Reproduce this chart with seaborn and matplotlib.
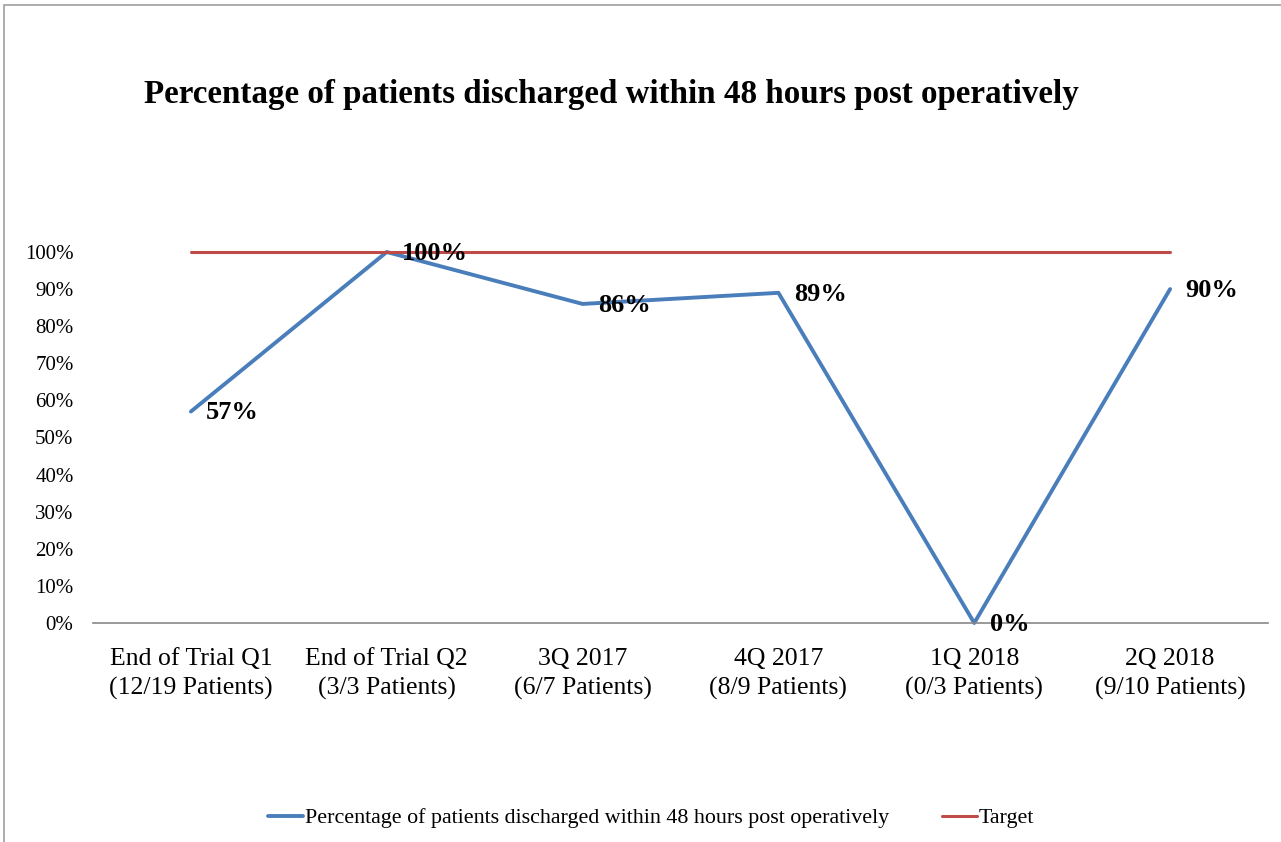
import numpy as np
import pandas as pd
import matplotlib
matplotlib.use("Agg")
import matplotlib.pyplot as plt
import seaborn as sns
from matplotlib.patches import Rectangle

# --- data ---
categories = [
    "End of Trial Q1\n(12/19 Patients)",
    "End of Trial Q2\n(3/3 Patients)",
    "3Q 2017\n(6/7 Patients)",
    "4Q 2017\n(8/9 Patients)",
    "1Q 2018\n(0/3 Patients)",
    "2Q 2018\n(9/10 Patients)",
]
discharged_pct = [57, 100, 86, 89, 0, 90]
target_pct = [100, 100, 100, 100, 100, 100]

series_name = "Percentage of patients discharged within 48 hours post operatively"
target_name = "Target"
title = "Percentage of patients discharged within 48 hours post operatively"

# --- style ---
sns.set_style("white")
plt.rcParams["font.family"] = ["Liberation Serif", "DejaVu Serif"]
plt.rcParams["text.color"] = "black"
plt.rcParams["xtick.color"] = "black"
plt.rcParams["ytick.color"] = "black"

BLUE = "#4A7EBB"
RED = "#BE4B48"

df = pd.DataFrame({
    "pos": np.arange(len(categories)),
    "value": discharged_pct,
    "target": target_pct,
})

fig = plt.figure(figsize=(12.81, 8.42), dpi=100)
W, H = 1281, 842
ax = fig.add_axes([93 / W, (H - 623) / H, (1268 - 93) / W, (623 - 252) / H])

sns.lineplot(data=df, x="pos", y="value", color=BLUE, linewidth=2.8,
             label=series_name, ax=ax)
sns.lineplot(data=df, x="pos", y="target", color=RED, linewidth=2.2,
             label=target_name, ax=ax)

ax.set_xlim(-0.5, len(categories) - 0.5)
ax.set_ylim(0, 100)
ax.set_yticks(range(0, 101, 10))
ax.set_yticklabels([f"{v}%" for v in range(0, 101, 10)], fontsize=15)
ax.set_xticks(df["pos"])
ax.set_xticklabels(categories, fontsize=18.5, linespacing=1.37)
ax.tick_params(axis="y", length=0, pad=14)
ax.tick_params(axis="x", length=0, pad=18)
ax.set_xlabel("")
ax.set_ylabel("")

for side in ["left", "right", "top"]:
    ax.spines[side].set_visible(False)
ax.spines["bottom"].set_color("#888888")
ax.spines["bottom"].set_linewidth(1.2)
for ln in ax.lines:
    ln.set_clip_on(False)

# data labels to the right of each point
for x, v in zip(df["pos"], df["value"]):
    ax.annotate(f"{v}%", (x, v), xytext=(11, -1), textcoords="offset points",
                ha="left", va="center", fontsize=19, fontweight="bold")

fig.text(611 / W, 1 - 95 / H, title, ha="center", va="center",
         fontsize=23.8, fontweight="bold")

ax.legend(loc="center", bbox_to_anchor=(651 / W, 1 - 818 / H),
          bbox_transform=fig.transFigure, ncol=2, frameon=False,
          fontsize=15.8, handlelength=1.6, handletextpad=0.1,
          columnspacing=2.4)

# chart border
fig.patches.append(Rectangle((4 / W, -0.01), 1.1, 1 - 5 / H + 0.01,
                             transform=fig.transFigure, fill=False,
                             edgecolor="#A0A0A0", linewidth=1.2))

fig.savefig("out.png", dpi=100)
